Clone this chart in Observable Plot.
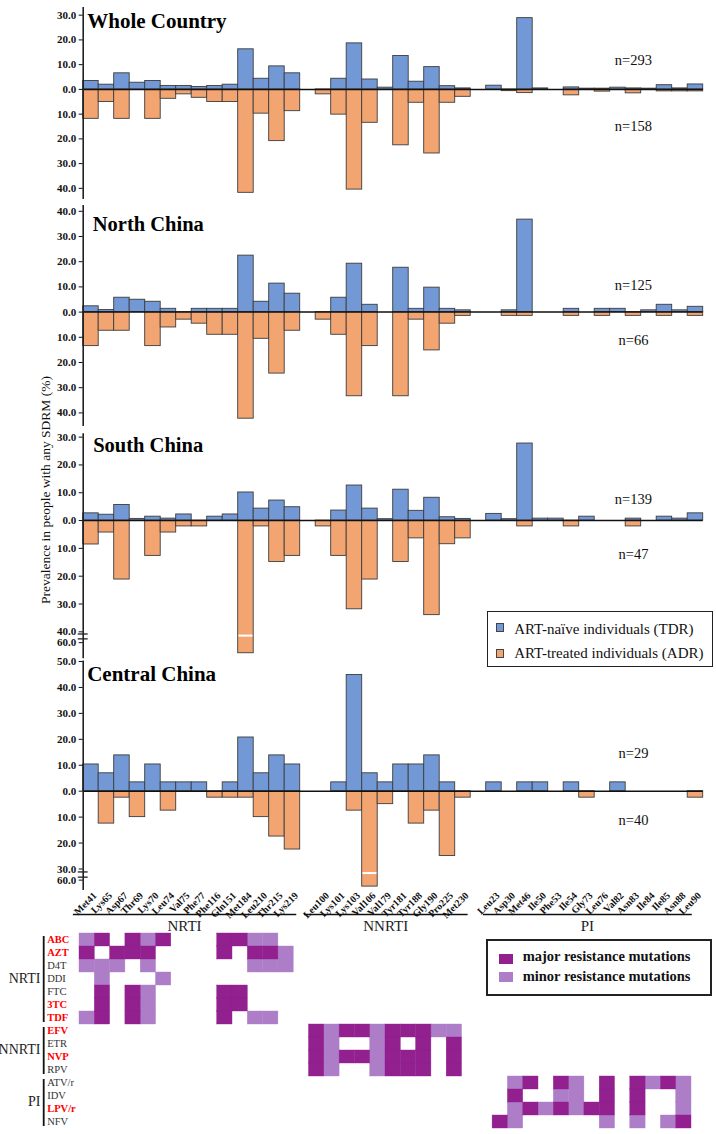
<!DOCTYPE html>
<html>
<head>
<meta charset="utf-8">
<script src="https://cdn.jsdelivr.net/npm/d3@7"></script>
<script src="https://cdn.jsdelivr.net/npm/@observablehq/plot@0.6"></script>
<style>
html,body{margin:0;padding:0;background:#fff;}
#root{position:relative;width:716px;height:1134px;overflow:hidden;font-family:"Liberation Serif","Times New Roman",serif;color:#111;}
.layer{position:absolute;left:0;}
.legend{position:absolute;box-sizing:border-box;border:1.6px solid #222;background:#fff;}
.legend .row{position:absolute;white-space:nowrap;}
.legend .sw{position:absolute;box-sizing:border-box;}
.ytitle{position:absolute;width:320px;height:16px;line-height:16px;text-align:center;font-size:13.5px;transform:rotate(-90deg);white-space:nowrap;}
</style>
</head>
<body>
<div id="root"></div>
<script>
// ---------------- DATA ----------------
const nrtiMutations = ["Met41","Lys65","Asp67","Thr69","Lys70","Leu74","Val75","Phe77","Phe116","Gln151","Met184","Leu210","Thr215","Lys219"];
const nnrtiMutations = ["Leu100","Lys101","Lys103","Val106","Val179","Tyr181","Tyr188","Gly190","Pro225","Met230"];
const piMutations = ["Leu23","Asp30","Met46","Ile50","Phe53","Ile54","Gly73","Leu76","Val82","Asn83","Ile84","Ile85","Asn88","Leu90"];
const classNames = ["NRTI","NNRTI","PI"];

const regions = ["Whole Country","North China","South China","Central China"];
const nTDR = [293, 125, 139, 29];
const nADR = [158, 66, 47, 40];
const seriesLabels = ["ART-naïve individuals (TDR)","ART-treated individuals (ADR)"];
const yAxisTitle = "Prevalence in people with any SDRM (%)";

// values in order: NRTI (14), NNRTI (10), PI (14)
const wholeTDR = [3.4,1.9,6.5,2.7,3.4,1.4,1.4,1.0,1.4,1.9,16.2,4.3,9.3,6.5,
                  0,4.3,18.6,4.0,0.7,13.5,3.1,9.0,1.3,0.4,
                  1.5,0,28.8,0.4,0,0.8,0.3,0.3,0.7,0.4,0.3,1.7,0.4,2.0];
const wholeADR = [11.9,5.1,11.9,0,11.9,3.8,2.0,3.4,5.1,5.1,41.8,9.8,20.9,8.8,
                  2.0,10.2,40.5,13.5,0,22.6,5.4,25.9,5.4,3.0,
                  0,0.7,1.5,0,0,2.4,0,0.9,0,1.6,0,0.8,0.8,0.8];
const northTDR = [2.3,0.8,5.7,4.9,4.1,1.3,0,1.3,1.3,1.3,22.4,4.1,11.3,7.3,
                  0,5.7,19.2,2.9,0,17.6,1.3,9.7,1.3,0.7,
                  0,0.7,36.7,0,0,1.3,0,1.3,1.3,0,0.7,2.9,0.7,2.1];
const northADR = [13.5,7.4,7.4,0,13.5,6.1,3.0,4.6,9.0,9.0,42.3,10.6,24.4,7.4,
                  3.0,9.0,33.4,13.5,0,33.4,3.0,15.2,4.6,1.5,
                  0,1.5,1.5,0,0,1.5,0,1.5,0,1.5,0,1.5,0,1.5];
const southTDR = [2.6,2.1,5.6,0.6,1.4,0.7,2.2,0,1.4,2.2,10.1,4.3,7.2,4.8,
                  0,3.6,12.6,4.3,0.5,11.1,3.5,8.2,1.2,0.6,
                  2.4,0.5,27.7,0.7,0.7,0,1.4,0,0,0.7,0,1.4,0.7,2.6];
const southADR = [8.6,4.3,21.2,0,12.7,4.3,2.1,2.1,0,0,63.8,2.1,14.9,12.7,
                  2.1,12.7,31.9,21.2,0,14.9,6.4,34.0,8.5,6.4,
                  0,0,2.1,0,0,2.1,0,0,0,2.1,0,0,0,0];
const centralTDR = [10.3,6.9,13.8,3.4,10.3,3.4,3.4,3.4,0,3.4,20.7,6.9,13.8,10.3,
                    0,3.4,44.8,6.9,3.4,10.3,10.3,13.8,3.4,0,
                    3.4,0,3.4,3.4,0,3.4,0,0,3.4,0,0,0,0,0];
const centralADR = [0,12.5,2.5,10.0,0,7.5,0,0,2.5,2.5,2.5,10.0,17.5,22.5,
                    0,0,7.5,62.5,5.0,0,12.5,7.5,25.0,2.5,
                    0,0,0,0,0,0,2.5,0,0,0,0,0,0,2.5];

const yTicksWhole = [30,20,10,0,-10,-20,-30,-40];
const yTicksNorth = [40,30,20,10,0,-10,-20,-30,-40];
const yTicksSouth = [30,20,10,0,-10,-20,-30,-40,-60];
const yTicksCentral = [50,40,30,20,10,0,-10,-20,-30,-60];

// heatmap: M = major, m = minor, . = none (columns follow the mutation lists)
const nrtiDrugs = ["ABC","AZT","D4T","DDI","FTC","3TC","TDF"];
const nnrtiDrugs = ["EFV","ETR","NVP","RPV"];
const piDrugs = ["ATV/r","IDV","LPV/r","NFV"];
const keyDrugs = ["ABC","AZT","3TC","TDF","EFV","NVP","LPV/r"];
const nrtiPattern = ["mM.MmM...MMmm.","M.MMM....M.MMm","mmm.m......mmm",".m...m........",".M.Mm....MM...",".M.Mm....MM...","mM.Mm....M.mm."];
const nnrtiPattern = ["MmMMmMMMmm","Mm..mM.M.M","MmMMmMMM.M","Mm..mMMM.M"];
const piPattern = ["..mM.Mm.M.MmMm","..M..mm.M.M..m","..mMmMmMM.M..m",".Mm.....m.m.mM"];
const levelLabels = ["major resistance mutations","minor resistance mutations"];

// ---------------- STYLE / LAYOUT ----------------
const SERIF = "'Liberation Serif','Times New Roman',serif";
const BLUE = "#7398d6", ORANGE = "#f3a571", MAJOR = "#92208f", MINOR = "#ae7dc8", EDGE = "#3c3c3c";

const mutationClasses = [
  {name: classNames[0], mutations: nrtiMutations, drugs: nrtiDrugs, pattern: nrtiPattern, pad: [-0.4, 0.2]},
  {name: classNames[1], mutations: nnrtiMutations, drugs: nnrtiDrugs, pattern: nnrtiPattern, pad: [-0.3, 0.4]},
  {name: classNames[2], mutations: piMutations, drugs: piDrugs, pattern: piPattern, pad: [0.4, 0.05]}
];
let slotCursor = 0;
const mutationSlots = [];
for (const c of mutationClasses) {
  c.start = slotCursor;
  c.mutations.forEach((m, i) => mutationSlots.push({name: m, slot: slotCursor + i}));
  slotCursor += c.mutations.length;
  c.end = slotCursor;
  slotCursor += 1;
}
const nSlots = slotCursor - 1;

// broken axis: values between hi and lo squeezed into gap units
function brokenAxis(lo, hi, gap) {
  return v => v >= lo ? v : v >= hi ? lo + (v - lo) * gap / (lo - hi) : lo - gap + (v - hi);
}

const panels = [
  {name: regions[0], tdr: wholeTDR, adr: wholeADR, top: 0, height: 205,
   domain: [-44.5, 33.1], range: [199, 7], ticks: yTicksWhole,
   titleDx: 4, titleDy: 27.3, titleSize: 21, nDy: [-29, 37]},
  {name: regions[1], tdr: northTDR, adr: northADR, top: 200, height: 232,
   domain: [-45.4, 42.3], range: [226, 5], ticks: yTicksNorth,
   titleDx: 9.6, titleDy: 30.7, titleSize: 20.5, nDy: [-26.7, 28.3]},
  {name: regions[2], tdr: southTDR, adr: southADR, top: 425, height: 240,
   transform: brokenAxis(-40, -60, 3.9), bottom: -65.8, domain: [-49.7, 31.2], range: [233.3, 8.3], ticks: yTicksSouth,
   breaks: [-44, -53], cut: -47, titleDx: 10, titleDy: 26.7, titleSize: 20.5, nDy: [-21.7, 33.3]},
  {name: regions[3], tdr: centralTDR, adr: centralADR, top: 655, height: 265,
   transform: brokenAxis(-30, -60, 4.3), bottom: -64, domain: [-38.3, 50.2], range: [235, 5.5], ticks: yTicksCentral,
   breaks: [-38, -52], cut: -41, titleDx: 4, titleDy: 25.7, titleSize: 21, nDy: [-38, 29], labels: true}
];
const nLabelSlot = 35.5;

const root = document.getElementById("root");
function place(node, top) {
  const d = document.createElement("div");
  d.className = "layer";
  d.style.top = top + "px";
  d.appendChild(node);
  root.appendChild(d);
}

panels.forEach((p, k) => {
  const tdrBars = [], adrBars = [];
  mutationSlots.forEach((m, i) => {
    if (p.adr[i] > 0) adrBars.push({slot: m.slot, v: -p.adr[i]});
    if (p.tdr[i] > 0) tdrBars.push({slot: m.slot, v: p.tdr[i]});
  });
  const yMin = p.bottom != null ? p.bottom : p.domain[0];
  const yMax = p.domain[p.domain.length - 1];
  const marks = [
    Plot.rect(adrBars, {x1: d => d.slot, x2: d => d.slot + 1, y1: () => 0, y2: d => d.v, fill: ORANGE, stroke: EDGE, strokeWidth: 0.9}),
    Plot.rect(tdrBars, {x1: d => d.slot, x2: d => d.slot + 1, y1: () => 0, y2: d => d.v, fill: BLUE, stroke: EDGE, strokeWidth: 0.9})
  ];
  if (p.cut != null) {
    marks.push(Plot.ruleY(adrBars.filter(d => d.v < p.cut), {x1: d => d.slot + 0.05, x2: d => d.slot + 0.95, y: () => p.cut, stroke: "#fff", strokeWidth: 2}));
  }
  marks.push(Plot.ruleY([0], {x1: () => 0, x2: () => nSlots, y: d => d, stroke: "#111", strokeWidth: 1.5}));
  marks.push(Plot.ruleX([0], {x: d => d, y1: () => yMin, y2: () => yMax, stroke: "#222", strokeWidth: 1.6}));
  if (p.breaks) marks.push(Plot.ruleY(p.breaks, {y: d => d, x1: () => -0.32, x2: () => 0.32, stroke: "#222", strokeWidth: 1.3}));
  marks.push(Plot.axisY(p.ticks, {anchor: "left", tickFormat: d => Math.abs(d).toFixed(1), tickSize: 4, tickPadding: 3, label: null, fontSize: 11, fontWeight: "bold", fill: "#111"}));
  marks.push(Plot.text([p.name], {text: d => d, frameAnchor: "top-left", dx: p.titleDx, dy: p.titleDy, lineAnchor: "bottom", textAnchor: "start", fontSize: p.titleSize, fontWeight: "bold", fill: "#000"}));
  marks.push(Plot.text([nTDR[k]], {x: () => nLabelSlot, y: () => 0, dy: p.nDy[0], text: d => "n=" + d, fontSize: 14.5, fontWeight: "normal", fill: "#111"}));
  marks.push(Plot.text([nADR[k]], {x: () => nLabelSlot, y: () => 0, dy: p.nDy[1], text: d => "n=" + d, fontSize: 14.5, fontWeight: "normal", fill: "#111"}));
  if (p.labels) {
    marks.push(Plot.text(mutationSlots, {x: d => d.slot + 0.5, y: () => yMin, text: d => d.name, rotate: -45, textAnchor: "end", dx: 4, dy: 3.5, fontSize: 10, fontWeight: "bold", fill: "#111"}));
  }
  const yScale = {domain: p.domain, range: p.range, label: null};
  if (p.transform) yScale.transform = p.transform;
  const chart = Plot.plot({
    width: 716, height: p.height,
    marginLeft: 82.7, marginRight: 13.3, marginTop: 0, marginBottom: 0,
    x: {domain: [0, nSlots], axis: null},
    y: yScale,
    style: {background: "transparent", overflow: "visible", fontFamily: SERIF, fontSize: "11px", fontWeight: "bold", color: "#111"},
    marks
  });
  place(chart, p.top);
});

// ---------------- HEATMAP ----------------
const allDrugs = [...nrtiDrugs, ...nnrtiDrugs, ...piDrugs];
const majorCells = [], minorCells = [];
mutationClasses.forEach(c => c.drugs.forEach((drug, r) => {
  [...c.pattern[r]].forEach((ch, i) => {
    if (ch === "M") majorCells.push({drug, slot: c.start + i});
    else if (ch === "m") minorCells.push({drug, slot: c.start + i});
  });
}));

function classDecor(index, scales) {
  const x = scales.x, y = scales.y;
  const bw = y(allDrugs[1]) - y(allDrugs[0]);
  const g = d3.create("svg:g");
  mutationClasses.forEach(c => {
    const y0 = y(c.drugs[0]), y1 = y(c.drugs[c.drugs.length - 1]) + bw;
    g.append("line").attr("x1", 43.7).attr("x2", 43.7).attr("y1", y0 + 3).attr("y2", y1 - 2)
      .attr("stroke", "#111").attr("stroke-width", 1.8);
    g.append("text").attr("x", 40.5).attr("y", (y0 + y1) / 2).attr("dy", "0.32em")
      .attr("text-anchor", "end").attr("font-size", 14).attr("font-weight", "normal").attr("fill", "#222").text(c.name);
    const xa = x(c.start + c.pad[0]), xb = x(c.end + c.pad[1]);
    g.append("line").attr("x1", xa).attr("x2", xb).attr("y1", 14.5).attr("y2", 14.5)
      .attr("stroke", "#111").attr("stroke-width", 1.6);
    g.append("text").attr("x", (xa + xb) / 2).attr("y", 25.7).attr("dy", "0.32em")
      .attr("text-anchor", "middle").attr("font-size", 15).attr("font-weight", "normal").attr("fill", "#222").text(c.name);
  });
  return g.node();
}

const heat = Plot.plot({
  width: 716, height: 234,
  marginLeft: 79, marginRight: 25, marginTop: 0, marginBottom: 0,
  x: {domain: [0, nSlots], axis: null},
  y: {type: "band", domain: allDrugs, range: [30, 230], padding: 0, axis: null},
  style: {background: "transparent", overflow: "visible", fontFamily: SERIF, fontSize: "10.5px", color: "#111"},
  marks: [
    Plot.barX(minorCells, {x1: d => d.slot, x2: d => d.slot + 1, y: d => d.drug, fill: MINOR, stroke: MINOR, strokeWidth: 0.4}),
    Plot.barX(majorCells, {x1: d => d.slot, x2: d => d.slot + 1, y: d => d.drug, fill: MAJOR, stroke: MAJOR, strokeWidth: 0.4}),
    Plot.text(allDrugs.filter(d => keyDrugs.includes(d)), {y: d => d, text: d => d, frameAnchor: "left", dx: -32.3, textAnchor: "start", fill: "#ff0000", fontWeight: "bold", fontSize: 10.5}),
    Plot.text(allDrugs.filter(d => !keyDrugs.includes(d)), {y: d => d, text: d => d, frameAnchor: "left", dx: -32.3, textAnchor: "start", fill: "#333", fontWeight: "normal", fontSize: 10.5}),
    classDecor
  ]
});
place(heat, 900);

// ---------------- LEGENDS & TITLES ----------------
function legend(left, top, width, height, border, entries) {
  const box = document.createElement("div");
  box.className = "legend";
  Object.assign(box.style, {left: left + "px", top: top + "px", width: width + "px", height: height + "px", borderWidth: border + "px"});
  entries.forEach(e => {
    const sw = document.createElement("div");
    sw.className = "sw";
    Object.assign(sw.style, {left: e.sx + "px", top: e.sy + "px", width: e.sw + "px", height: e.sh + "px", background: e.color, border: e.swBorder || "none"});
    box.appendChild(sw);
    const t = document.createElement("div");
    t.className = "row";
    Object.assign(t.style, {left: e.tx + "px", top: e.ty + "px", fontSize: e.fs + "px", lineHeight: e.fs + "px", fontWeight: e.fw});
    t.textContent = e.text;
    box.appendChild(t);
  });
  root.appendChild(box);
}
legend(486.7, 611, 226.6, 56, 1.6, [
  {text: seriesLabels[0], color: BLUE, sx: 8, sy: 11, sw: 8.5, sh: 8.5, swBorder: "1px solid #444", tx: 26.5, ty: 9.5, fs: 15, fw: "normal"},
  {text: seriesLabels[1], color: ORANGE, sx: 8, sy: 37, sw: 8.5, sh: 8.5, swBorder: "1px solid #444", tx: 26.5, ty: 34, fs: 15, fw: "normal"}
]);
legend(486, 939, 225.7, 57, 2, [
  {text: levelLabels[0], color: MAJOR, sx: 11.3, sy: 13.3, sw: 13.4, sh: 10, tx: 34.7, ty: 8, fs: 14.5, fw: "bold"},
  {text: levelLabels[1], color: MINOR, sx: 11.3, sy: 31.3, sw: 13.4, sh: 10, tx: 34.7, ty: 28, fs: 14.5, fw: "bold"}
]);

const yt = document.createElement("div");
yt.className = "ytitle";
yt.textContent = yAxisTitle;
Object.assign(yt.style, {left: (46 - 160) + "px", top: (490 - 8) + "px"});
root.appendChild(yt);
</script>
</body>
</html>
